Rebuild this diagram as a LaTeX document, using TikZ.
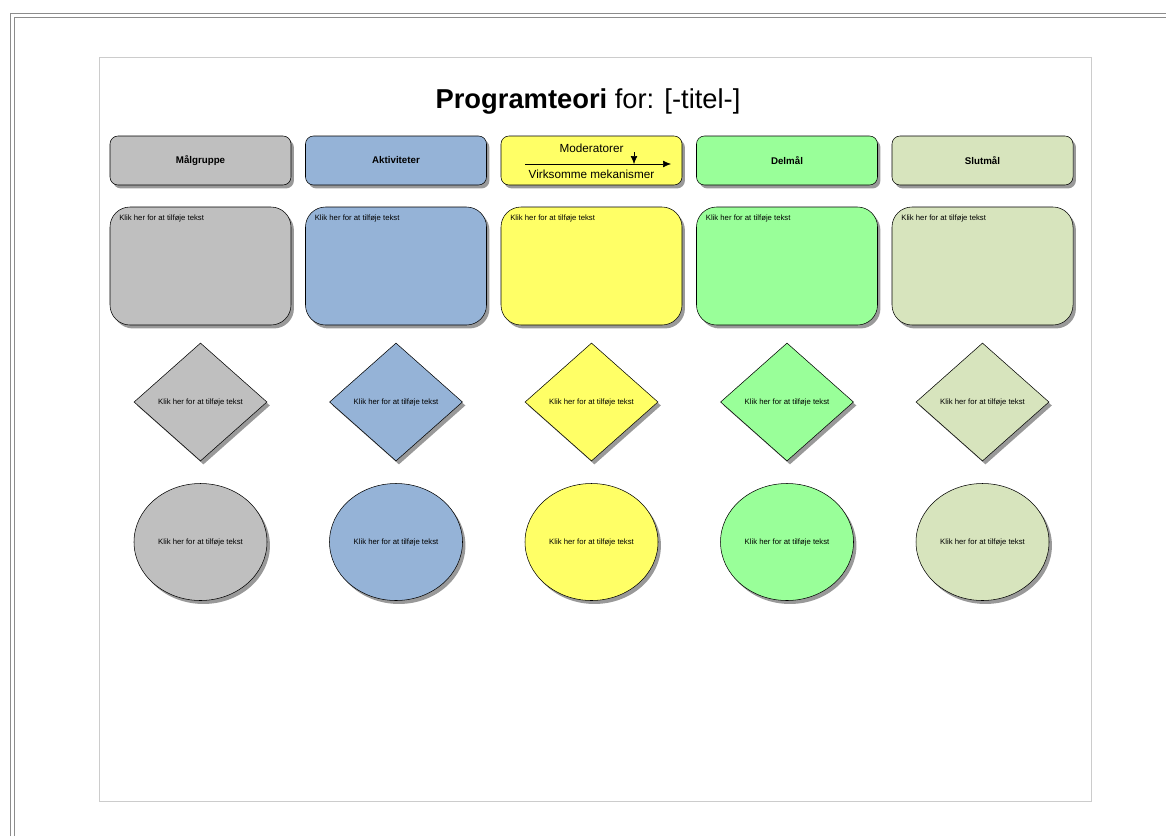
\documentclass[tikz,border=0pt]{standalone}
\usepackage{fontspec}
\setmainfont{Liberation Sans}
\usetikzlibrary{arrows,arrows.meta,positioning,shapes.geometric,shadows}
\definecolor{grayfill}{HTML}{BFBFBF}
\definecolor{bluefill}{HTML}{95B3D7}
\definecolor{yellowfill}{HTML}{FFFF66}
\definecolor{greenfill}{HTML}{99FF99}
\definecolor{sagefill}{HTML}{D7E4BD}

\begin{document}
\begin{tikzpicture}[>={Latex[length=6pt,width=5pt]}, x=0.75pt, y=-0.75pt]
    \tikzset{
      shade/.style={drop shadow={shadow xshift=2.2pt, shadow yshift=-2.6pt, opacity=0.8}},
      head/.style={
        draw,
        rectangle,
        rounded corners=6pt,
        shade,
        minimum width=135.75pt,
        minimum height=36.75pt,
        font=\fontsize{7.3}{8}\selectfont\bfseries
      },
      bigbox/.style={
        draw,
        rectangle,
        rounded corners=15pt,
        shade,
        minimum width=135.75pt,
        minimum height=88.5pt
      },
      rhomb/.style={
        draw,
        diamond,
        inner sep=0pt,
        shade,
        minimum width=99.75pt,
        minimum height=88.5pt,
        font=\fontsize{5.8}{7}\selectfont
      },
      oval/.style={
        draw,
        ellipse,
        inner sep=0pt,
        shade,
        minimum width=99.75pt,
        minimum height=87.75pt,
        font=\fontsize{5.8}{7}\selectfont
      },
      hint/.style={inner sep=0pt, font=\fontsize{5.8}{7}\selectfont}
    };

    \useasboundingbox (0,0) rectangle (1166,836);
    \draw[gray!90] (10,836) -- (10,13) -- (1166,13);
    \draw[gray!90] (14,836) -- (14,17) -- (1166,17);
    \draw[gray!40] (99,57) rectangle (1091,801);

    \node (title) at (588,101) {\fontsize{20.5}{24}\selectfont\textbf{Programteori} for: [-titel-]};

    \foreach \i/\lab/\col in {1/Målgruppe/grayfill, 2/Aktiviteter/bluefill,
        3//yellowfill, 4/Delmål/greenfill, 5/Slutmål/sagefill} {
      \pgfmathsetmacro\cx{200.5+195.5*(\i-1)}
      \node [head, fill=\col] (head\i) at (\cx,160.5) {\lab};
      \node [bigbox, fill=\col] (box\i) at (\cx,266) {};
      \node [hint, anchor=north west] (hint\i) at ([xshift=7pt,yshift=-6pt]box\i.north west) {Klik her for at tilføje tekst};
      \node [rhomb, fill=\col] (rhomb\i) at (\cx,402) {Klik her for at tilføje tekst};
      \node [oval, fill=\col] (oval\i) at (\cx,542) {Klik her for at tilføje tekst};
    }

    \node [inner sep=0pt, font=\fontsize{8.8}{10}\selectfont] (moder) at (591.5,148) {Moderatorer};
    \node [inner sep=0pt, font=\fontsize{8.8}{10}\selectfont] (mekan) at (591.5,174) {Virksomme mekanismer};
    \coordinate (flowin) at (525,164);
    \coordinate (flowout) at (671,164);
    \coordinate (modtop) at (634,152);
    \coordinate (modend) at (634,164);
    \path[draw,->] (flowin) -- (flowout);
    \path[draw,->] (modtop) -- (modend);

  \end{tikzpicture}
\end{document}
